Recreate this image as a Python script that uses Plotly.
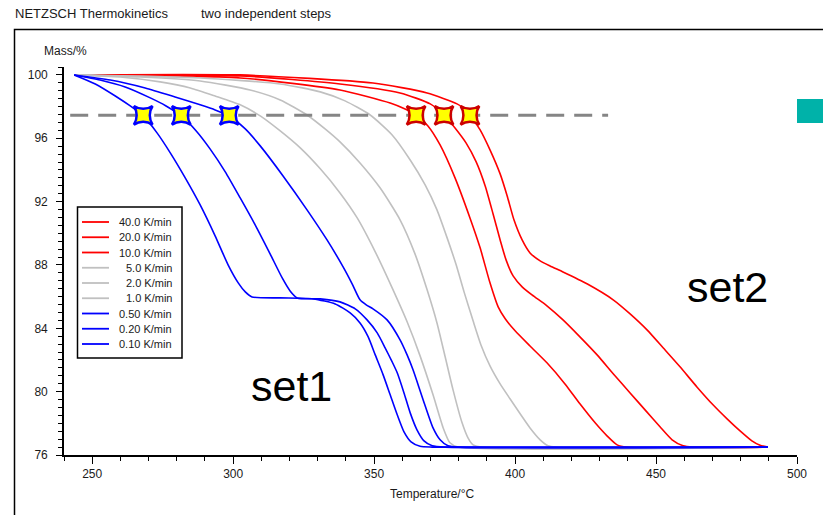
import plotly.graph_objects as go

FONT = "Liberation Sans, Arial, sans-serif"

# Heating rates (legend order) and their line colours
rate_labels = ["40.0 K/min", "20.0 K/min", "10.0 K/min",
               "5.0 K/min", "2.0 K/min", "1.0 K/min",
               "0.50 K/min", "0.20 K/min", "0.10 K/min"]
rate_colors = ["#ff0000", "#ff0000", "#ff0000",
               "#c0c0c0", "#c0c0c0", "#c0c0c0",
               "#0000ff", "#0000ff", "#0000ff"]

# Temperature / °C and mass / % for each heating rate
t_40 = [243.6, 302.5, 349.6, 368.8, 379.4, 381.6, 384.0, 387.6, 391.1, 394.7, 397.2, 399.6, 402.5, 405.3, 408.9,
        412.4, 417.0, 425.5, 434.8, 440.8, 446.8, 452.5, 458.5, 464.5, 470.2, 475.2, 479.8, 484.0, 486.9, 489.7]
m_40 = [100.0, 100.0, 99.49, 98.86, 98.17, 97.92, 97.47, 96.53, 95.27, 93.75, 92.36, 90.85, 89.58, 88.76, 88.26,
        87.94, 87.56, 86.81, 85.80, 84.91, 83.90, 82.77, 81.57, 80.30, 79.17, 78.28, 77.52, 76.89, 76.61, 76.50]

t_20 = [243.6, 302.5, 337.9, 359.2, 369.9, 374.8, 378.7, 382.6, 386.2, 389.4, 392.2, 394.7, 396.8, 399.3,
        402.5, 406.0, 411.3, 417.0, 423.0, 429.1, 434.8, 440.8, 446.1, 451.4, 455.7, 459.6, 463.1, 489.7]
m_20 = [100.0, 99.94, 99.43, 98.86, 98.17, 97.47, 96.65, 95.71, 94.51, 92.99, 91.22, 89.58, 88.32, 87.31,
        86.62, 86.11, 85.42, 84.53, 83.46, 82.32, 81.13, 79.92, 78.85, 77.78, 76.96, 76.58, 76.50, 76.50]

t_10 = [243.6, 302.5, 337.9, 355.7, 361.0, 364.9, 369.1, 373.4, 378.7, 384.0, 387.6, 391.1, 394.0, 396.5,
        400.0, 405.3, 411.3, 417.7, 423.0, 428.4, 432.6, 436.2, 439.7, 489.7]
m_10 = [100.0, 99.81, 99.05, 98.23, 97.85, 97.47, 96.78, 95.58, 93.50, 90.97, 89.08, 86.87, 85.35, 84.60,
        83.84, 82.88, 81.82, 80.49, 79.23, 78.03, 77.21, 76.64, 76.50, 76.50]

t_5 = [243.6, 288.3, 316.7, 330.9, 339.7, 348.6, 356.4, 362.8, 368.1, 372.3, 375.9, 379.1, 381.9, 385.1,
       387.9, 391.1, 394.7, 398.2, 401.8, 405.3, 408.9, 411.7, 414.5, 489.7]
m_5 = [100.0, 99.81, 99.43, 98.93, 98.36, 97.47, 96.21, 94.63, 93.06, 91.48, 89.71, 88.01, 86.30, 84.47,
       82.95, 81.63, 80.49, 79.55, 78.60, 77.71, 76.96, 76.58, 76.50, 76.50]

t_2 = [243.6, 267.0, 288.3, 306.0, 316.7, 326.2, 332.6, 337.9, 345.0, 352.1, 359.2, 364.5, 368.8, 372.3,
       375.2, 378.0, 381.2, 383.3, 385.1, 388.7, 489.7]
m_2 = [100.0, 99.87, 99.62, 99.05, 98.42, 97.47, 96.59, 95.77, 94.44, 92.87, 90.85, 88.70, 86.43, 84.34,
       82.20, 80.11, 78.03, 77.08, 76.64, 76.50, 76.50]

t_1 = [243.6, 259.9, 274.1, 284.8, 293.6, 302.5, 309.6, 316.7, 323.8, 330.9, 337.9, 344.0, 350.4, 356.4,
       361.7, 366.3, 370.9, 374.5, 376.9, 379.8, 489.7]
m_1 = [100.0, 99.87, 99.56, 99.18, 98.67, 98.11, 97.41, 96.46, 95.39, 94.07, 92.55, 90.97, 88.83, 86.55,
       84.41, 82.26, 79.80, 77.71, 76.77, 76.50, 76.50]

t_05 = [243.6, 256.4, 268.8, 279.4, 288.3, 293.6, 298.6, 304.3, 309.6, 317.7, 326.2, 333.3, 339.0, 342.2,
        345.0, 347.2, 349.6, 354.6, 359.2, 361.7, 363.8, 367.4, 370.9, 373.4, 376.2, 380.5, 489.7]
m_05 = [100.0, 99.68, 99.18, 98.61, 98.11, 97.79, 97.41, 96.59, 95.52, 93.62, 91.48, 89.58, 87.88, 86.81,
        85.80, 85.48, 85.23, 84.53, 83.27, 82.32, 81.38, 79.48, 77.71, 76.96, 76.58, 76.50, 76.50]

t_02 = [243.6, 252.8, 261.7, 270.6, 276.2, 281.6, 286.9, 291.8, 297.2, 302.5, 307.8, 313.1, 317.4, 320.2,
        322.7, 330.9, 337.9, 343.3, 347.5, 351.1, 353.9, 356.4, 358.2, 360.6, 362.8, 365.2, 367.7, 370.6,
        375.2, 489.7]
m_02 = [100.0, 99.68, 99.24, 98.55, 98.04, 97.41, 96.46, 95.33, 93.88, 92.23, 90.53, 88.70, 87.18, 86.36,
        85.92, 85.86, 85.67, 85.23, 84.53, 83.71, 82.77, 81.88, 81.19, 79.92, 78.66, 77.59, 76.89, 76.58,
        76.50, 76.50]

t_01 = [243.6, 251.1, 258.2, 263.5, 268.1, 273.0, 277.7, 283.0, 288.3, 293.6, 298.2, 301.8, 304.3, 306.7,
        316.7, 328.4, 336.2, 341.5, 345.0, 347.9, 350.4, 353.2, 355.7, 358.2, 360.6, 363.1, 366.3, 370.6, 489.7]
m_01 = [100.0, 99.43, 98.67, 98.04, 97.41, 96.34, 95.08, 93.50, 91.79, 89.84, 88.01, 86.87, 86.30, 85.98,
        85.92, 85.86, 85.54, 84.97, 84.34, 83.46, 82.32, 81.06, 79.80, 78.54, 77.46, 76.83, 76.55, 76.50, 76.50]

series_t = [t_40, t_20, t_10, t_5, t_2, t_1, t_05, t_02, t_01]
series_m = [m_40, m_20, m_10, m_5, m_2, m_1, m_05, m_02, m_01]

# Reference mass level and the temperatures where the curves reach it
ref_level = 97.45
ref_line_t = [242.2, 433.0]
star_t_slow = [268.1, 281.6, 298.6]
star_t_fast = [364.9, 374.8, 384.0]

# Plot area in pixels (used to place layout decorations)
L, R, T, B = 64, 797, 67, 455


def px(x):
    return (x - L) / (R - L)


def py(y):
    return (B - y) / (B - T)


fig = go.Figure()

for lab, col, tt, mm in zip(rate_labels, rate_colors, series_t, series_m):
    fig.add_trace(go.Scatter(
        x=tt, y=mm, mode="lines", name=lab, showlegend=False,
        line=dict(color=col, width=1.6, shape="spline", smoothing=0.6),
        hoverinfo="x+y+name"))

fig.add_trace(go.Scatter(
    x=ref_line_t, y=[ref_level] * len(ref_line_t), mode="lines", showlegend=False,
    line=dict(color="#858585", width=3, dash="18px,10px"), hoverinfo="skip"))

fig.add_trace(go.Scatter(
    x=star_t_slow, y=[ref_level] * len(star_t_slow), mode="markers", showlegend=False,
    marker=dict(symbol="star-square", size=17, color="#ffff00",
                line=dict(color="#0000ff", width=2.5))))
fig.add_trace(go.Scatter(
    x=star_t_fast, y=[ref_level] * len(star_t_fast), mode="markers", showlegend=False,
    marker=dict(symbol="star-square", size=17, color="#ffff00",
                line=dict(color="#cc0000", width=2.5))))

shapes = [
    # outer frame
    dict(type="rect", xref="paper", yref="paper", x0=px(14.5), x1=px(840), y0=py(530), y1=py(29.5),
         line=dict(color="black", width=1.5), fillcolor="rgba(0,0,0,0)", layer="above"),
    # teal block at the right edge
    dict(type="rect", xref="paper", yref="paper", x0=px(797), x1=px(830), y0=py(123), y1=py(99),
         line=dict(width=0), fillcolor="#00b2a9", layer="above"),
    # legend box
    dict(type="rect", xref="paper", yref="paper", x0=px(77.5), x1=px(182), y0=py(358), y1=py(207),
         line=dict(color="black", width=1.5), fillcolor="white", layer="above"),
]

annotations = [
    dict(text="NETZSCH Thermokinetics", xref="paper", yref="paper", x=px(13), y=py(13),
         xanchor="left", yanchor="middle", showarrow=False, font=dict(family=FONT, size=13, color="#1a1a1a")),
    dict(text="two independent steps", xref="paper", yref="paper", x=px(199), y=py(13),
         xanchor="left", yanchor="middle", showarrow=False, font=dict(family=FONT, size=13, color="#1a1a1a")),
    dict(text="Mass/%", xref="paper", yref="paper", x=px(42), y=py(51),
         xanchor="left", yanchor="middle", showarrow=False, font=dict(family=FONT, size=12, color="#1a1a1a")),
    dict(text="Temperature/°C", xref="paper", yref="paper", x=px(432), y=py(494),
         xanchor="center", yanchor="middle", showarrow=False, font=dict(family=FONT, size=12, color="#1a1a1a")),
    dict(text="set1", x=320.6, y=80.35, xanchor="center", yanchor="middle", showarrow=False,
         font=dict(family=FONT, size=43, color="black")),
    dict(text="set2", x=475.5, y=86.6, xanchor="center", yanchor="middle", showarrow=False,
         font=dict(family=FONT, size=43, color="black")),
]

# hand-built legend
for i, (lab, col) in enumerate(zip(rate_labels, rate_colors)):
    yy = 222 + 15.25 * i
    shapes.append(dict(type="line", xref="paper", yref="paper", x0=px(82), x1=px(109),
                       y0=py(yy), y1=py(yy), line=dict(color=col, width=1.8), layer="above"))
    annotations.append(dict(text=lab, xref="paper", yref="paper", x=px(173.5), y=py(yy),
                            xanchor="right", yanchor="middle", showarrow=False,
                            font=dict(family=FONT, size=11, color="#1a1a1a")))

fig.update_layout(
    width=823, height=515,
    margin=dict(l=L, r=823 - R, t=T, b=515 - B, pad=0),
    paper_bgcolor="white", plot_bgcolor="white",
    font=dict(family=FONT, size=12, color="#1a1a1a"),
    shapes=shapes, annotations=annotations,
    xaxis=dict(range=[240, 500], tick0=0, dtick=50, showgrid=False, zeroline=False,
               showline=True, linecolor="black", linewidth=1.6,
               ticks="outside", ticklen=7, tickwidth=1.3, tickcolor="black",
               tickfont=dict(family=FONT, size=12, color="#1a1a1a"),
               minor=dict(tick0=0, dtick=10, ticks="outside", ticklen=4, tickwidth=1.3,
                          tickcolor="black", showgrid=False)),
    yaxis=dict(range=[76, 100.5], tick0=0, dtick=4, showgrid=False, zeroline=False,
               showline=True, linecolor="black", linewidth=1.6,
               ticks="outside", ticklen=6, tickwidth=1.3, tickcolor="black",
               tickfont=dict(family=FONT, size=12, color="#1a1a1a"), ticklabelstandoff=6,
               minor=dict(tick0=0, dtick=0.5, ticks="outside", ticklen=4, tickwidth=1.3,
                          tickcolor="black", showgrid=False)),
    showlegend=False,
)

fig.write_html("out.html")
